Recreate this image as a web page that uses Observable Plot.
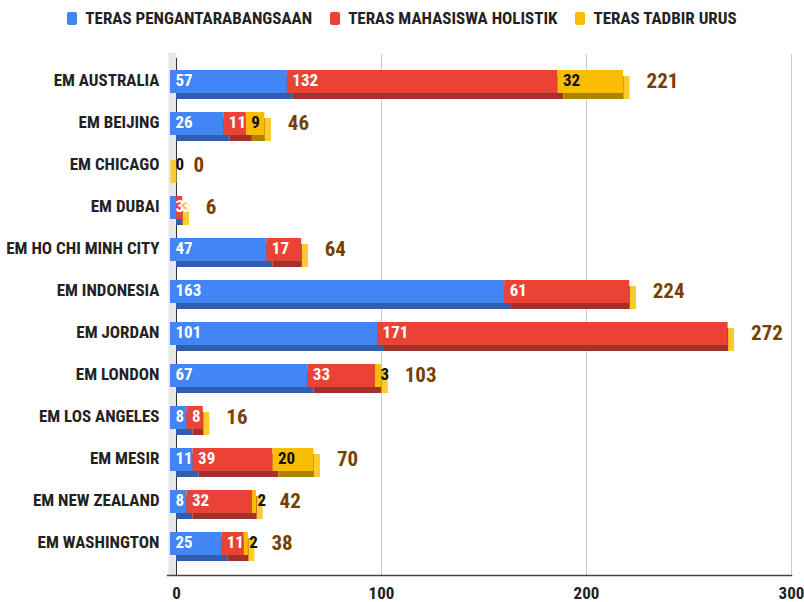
<!DOCTYPE html>
<html>
<head>
<meta charset="utf-8">
<script src="https://cdn.jsdelivr.net/npm/d3@7"></script>
<script src="https://cdn.jsdelivr.net/npm/@observablehq/plot@0.6"></script>
<style>
  html, body { margin: 0; padding: 0; background: #fff; }
  body { width: 804px; height: 602px; overflow: hidden; font-family: "Roboto Condensed", "Liberation Sans Narrow", "Arial Narrow", "DejaVu Sans Condensed", Roboto, sans-serif; }
  #legend { height: 36px; display: flex; justify-content: center; align-items: center; font-weight: 700; font-size: 17px; color: #222; }
  #legend .item { display: flex; align-items: center; margin: 0 9px; }
  #legend .sw { width: 10px; height: 13px; border-radius: 2px; margin-right: 8px; }
</style>
</head>
<body>
<div id="legend"></div>
<div id="chart"></div>
<script>
const categories = ["EM AUSTRALIA","EM BEIJING","EM CHICAGO","EM DUBAI","EM HO CHI MINH CITY","EM INDONESIA","EM JORDAN","EM LONDON","EM LOS ANGELES","EM MESIR","EM NEW ZEALAND","EM WASHINGTON"];
const seriesNames = ["TERAS PENGANTARABANGSAAN","TERAS MAHASISWA HOLISTIK","TERAS TADBIR URUS"];
const pengantarabangsaan = [57,26,0,3,47,163,101,67,8,11,8,25];
const mahasiswaHolistik  = [132,11,0,3,17,61,171,33,8,39,32,11];
const tadbirUrus         = [32,9,0,0,0,0,0,3,0,20,2,2];
const xTicks = [0,100,200,300];

const frontColors  = ["#4285f4","#ea4335","#fbbc04"];
const bottomColors = ["#2f5fad","#a3302a","#ad8200"];
const sideColor = "#fdcb2e";
const labelColors = ["#ffffff","#ffffff","#111111"];
const totalColor = "#783f04";
const FONT = '"Roboto Condensed", "Liberation Sans Narrow", "Arial Narrow", "DejaVu Sans Condensed", Roboto, sans-serif';

const seriesValues = [pengantarabangsaan, mahasiswaHolistik, tadbirUrus];
const data = [];
categories.forEach((c, i) => seriesValues.forEach((vals, s) => data.push({cat: c, s, value: vals[i]})));
const totals = categories.map((c, i) => ({cat: c, total: seriesValues.reduce((a, v) => a + v[i], 0)}));
const totalOf = Object.fromEntries(totals.map(d => [d.cat, d.total]));

// legend
const legend = document.getElementById("legend");
seriesNames.forEach((n, s) => {
  const it = document.createElement("div"); it.className = "item";
  const sw = document.createElement("div"); sw.className = "sw"; sw.style.background = frontColors[s];
  const tx = document.createElement("span"); tx.textContent = n;
  it.appendChild(sw); it.appendChild(tx); legend.appendChild(it);
});

const D = 6;
const stackOpts = {y: "cat", x: "value", z: "s", order: null};

const chart = Plot.plot({
  width: 804,
  height: 566,
  marginLeft: 176,
  marginRight: 13,
  marginTop: 26,
  marginBottom: 27,
  style: {fontFamily: FONT, fontSize: "17px", background: "#fff"},
  x: {domain: [0, 300]},
  y: {domain: categories, paddingInner: 0.455, paddingOuter: 0.31, label: null},
  color: {type: "identity"},
  marks: [
    Plot.gridX({ticks: xTicks.filter(t => t > 0), stroke: "#cccccc", strokeOpacity: 1, insetTop: -8}),
    Plot.ruleX([0], {stroke: "#e6e6e6", strokeWidth: 8, dx: -4, insetTop: -9}),
    Plot.ruleX([0], {stroke: "#333", strokeWidth: 1, insetTop: -4}),
    // back / bottom faces
    Plot.barX(data, Plot.stackX({...stackOpts, fill: d => bottomColors[d.s]})),
    // right side face of the last series
    Plot.tickX(totals, {x: "total", y: "cat", stroke: sideColor, strokeWidth: D, dx: -D / 2}),
    // front faces
    Plot.barX(data, Plot.stackX({...stackOpts, fill: d => frontColors[d.s], dx: -D, dy: -D})),
    // segment labels
    Plot.text(data, Plot.stackX1({...stackOpts,
      text: d => (d.value > 0 || (totalOf[d.cat] === 0 && d.s === 2)) ? String(d.value) : "",
      fill: d => labelColors[d.s], textAnchor: "start", dx: -1, dy: -7,
      fontSize: 17, fontWeight: 700})),
    // totals
    Plot.text(totals, {x: "total", y: "cat", text: d => String(d.total), textAnchor: "start",
      dx: 17, dy: -7, fill: totalColor, fontSize: 21, fontWeight: 700}),
    Plot.frame({anchor: "bottom", stroke: "#444", strokeWidth: 1.5, insetLeft: -9}),
    Plot.axisY({tickSize: 0, tickPadding: 17, dy: -7, fontSize: 17, fontWeight: 700, color: "#222", label: null}),
    Plot.axisX({ticks: xTicks, tickSize: 0, tickPadding: 11, fontSize: 17, fontWeight: 700, color: "#222", label: null})
  ]
});
document.getElementById("chart").appendChild(chart);
</script>
</body>
</html>
